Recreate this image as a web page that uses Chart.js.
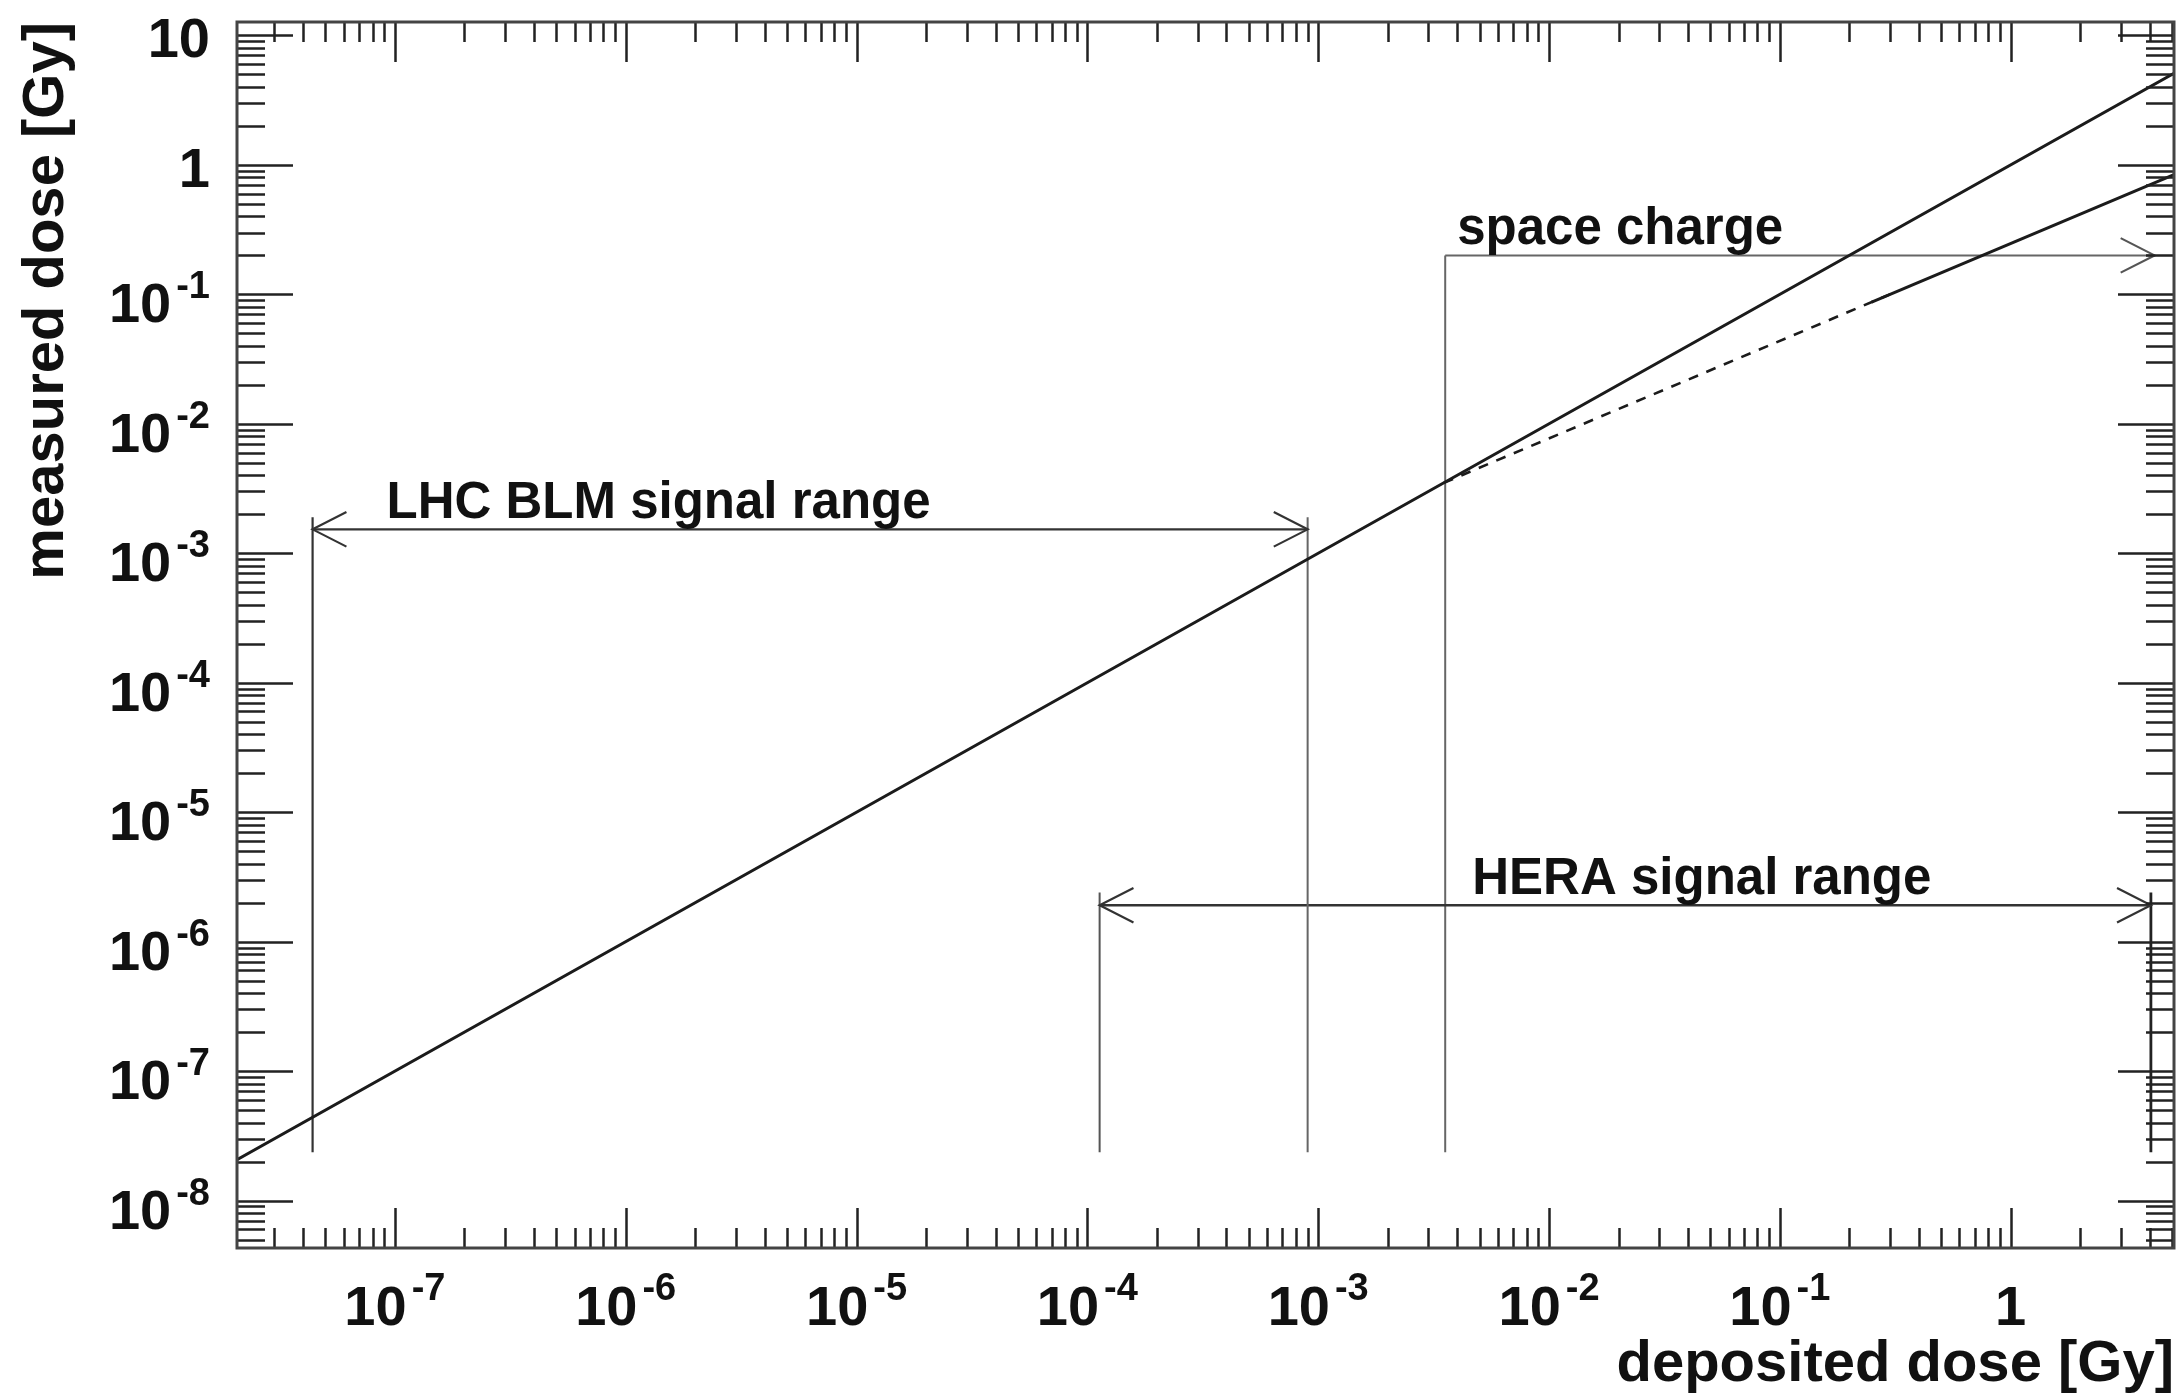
<!DOCTYPE html>
<html>
<head>
<meta charset="utf-8">
<title>measured dose vs deposited dose</title>
<script src="https://cdn.jsdelivr.net/npm/chart.js@4.4.1/dist/chart.umd.min.js"></script>
<style>
  html, body { margin: 0; padding: 0; background: #fff; }
  canvas { display: block; }
</style>
</head>
<body>
<canvas id="doseChart" width="2182" height="1398"></canvas>
<script>
const xRange = [2.07e-8, 5.1];
const yRange = [4.3e-9, 12.7];

// decade labels (powers of ten)
const xTickPowers = [-7, -6, -5, -4, -3, -2, -1, 0];
const yTickPowers = [-8, -7, -6, -5, -4, -3, -2, -1, 0, 1];

// linear response: measured = deposited
const linearX = [2.07e-8, 1e-3, 5.1];
const linearY = [2.07e-8, 1e-3, 5.1];

// response limited by space charge (dashed start, then solid)
const satDashX = [3.5e-3, 0.3];
const satDashY = [3.5e-3, 0.1];
const satSolidX = [0.25, 5.1];
const satSolidY = [0.087, 0.84];

// signal range markers
const rangeFloor = 2.36e-8;
const lhcX = [4.4e-8, 9.0e-4];
const lhcY = 1.53e-3;
const lhcTop = 1.9e-3;
const heraX = [1.13e-4, 4.05];
const heraY = 1.91e-6;
const heraTop = 2.4e-6;
const spaceX = [3.55e-3, 4.2];
const spaceY = 0.2;

const FONT = '"Liberation Sans", Arial, Helvetica, sans-serif';

const pts = (xs, ys) => xs.map((x, i) => ({ x, y: ys[i] }));
const seg = (x0, y0, x1, y1) => [{ x: x0, y: y0 }, { x: x1, y: y1 }];

function lineSet(label, data, color, width, dash) {
  return {
    label, data,
    showLine: true,
    borderColor: color,
    borderWidth: width,
    borderDash: dash || [],
    pointRadius: 0,
    pointHoverRadius: 0,
    fill: false,
    tension: 0,
  };
}

const arrows = [
  { x: lhcX, y: lhcY, heads: [true, true], color: '#333' },
  { x: heraX, y: heraY, heads: [true, true], color: '#333' },
  { x: spaceX, y: spaceY, heads: [false, true], color: '#555' },
];

const notes = [
  { text: 'LHC BLM signal range', x: 9.2e-8, y: lhcY },
  { text: 'space charge', x: 4.0e-3, y: spaceY },
  { text: 'HERA signal range', x: 4.65e-3, y: heraY },
];

function logTickValues(min, max) {
  const out = [];
  for (let e = Math.floor(Math.log10(min)); e <= Math.ceil(Math.log10(max)); e++) {
    for (let m = 1; m <= 9; m++) {
      const v = m * Math.pow(10, e);
      if (v >= min && v <= max) out.push({ v, major: m === 1 });
    }
  }
  return out;
}

function powerParts(p) {
  if (p === 0) return ['1', ''];
  if (p === 1) return ['10', ''];
  return ['10', String(p)];
}

const baseFont = 'bold 56px ' + FONT;
const expFont = 'bold 38px ' + FONT;

const rootStyle = {
  id: 'rootStyle',
  afterDatasetsDraw(chart) {
    const { ctx, chartArea: a, scales: { x, y } } = chart;
    ctx.save();

    // arrows heads
    const L = 38, th = 27 * Math.PI / 180;
    arrows.forEach(ar => {
      const py = y.getPixelForValue(ar.y);
      ctx.strokeStyle = ar.color;
      ctx.lineWidth = 2.2;
      ar.x.forEach((xv, i) => {
        if (!ar.heads[i]) return;
        const px = x.getPixelForValue(xv);
        const dir = i === 0 ? -1 : 1;
        ctx.beginPath();
        ctx.moveTo(px - dir * L * Math.cos(th), py - L * Math.sin(th));
        ctx.lineTo(px, py);
        ctx.lineTo(px - dir * L * Math.cos(th), py + L * Math.sin(th));
        ctx.stroke();
      });
    });

    // annotation text
    ctx.fillStyle = '#111';
    ctx.font = 'bold 51px ' + FONT;
    ctx.textAlign = 'left';
    ctx.textBaseline = 'alphabetic';
    notes.forEach(n => {
      ctx.fillText(n.text, x.getPixelForValue(n.x), y.getPixelForValue(n.y) - 11);
    });

    // ticks on all four sides, pointing inwards
    ctx.strokeStyle = '#222';
    ctx.lineWidth = 2.5;
    ctx.beginPath();
    logTickValues(xRange[0], xRange[1]).forEach(t => {
      const px = Math.round(x.getPixelForValue(t.v)) + 0.5;
      const len = t.major ? 40 : 20;
      ctx.moveTo(px, a.bottom); ctx.lineTo(px, a.bottom - len);
      ctx.moveTo(px, a.top); ctx.lineTo(px, a.top + len);
    });
    logTickValues(yRange[0], yRange[1]).forEach(t => {
      const py = Math.round(y.getPixelForValue(t.v)) + 0.5;
      const len = t.major ? 56 : 28;
      ctx.moveTo(a.left, py); ctx.lineTo(a.left + len, py);
      ctx.moveTo(a.right, py); ctx.lineTo(a.right - len, py);
    });
    ctx.stroke();

    // frame
    ctx.strokeStyle = '#444';
    ctx.lineWidth = 3;
    ctx.strokeRect(a.left, a.top, a.right - a.left, a.bottom - a.top);

    // decade labels, x axis
    ctx.fillStyle = '#111';
    ctx.textBaseline = 'alphabetic';
    ctx.textAlign = 'left';
    const xBase = a.bottom + 77;
    xTickPowers.forEach(p => {
      const [b, e] = powerParts(p);
      const px = x.getPixelForValue(Math.pow(10, p));
      ctx.font = baseFont;
      const wb = ctx.measureText(b).width;
      ctx.font = expFont;
      const we = e ? ctx.measureText(e).width + 5 : 0;
      const x0 = px - (wb + we) / 2;
      ctx.font = baseFont;
      ctx.fillText(b, x0, xBase);
      if (e) {
        ctx.font = expFont;
        ctx.fillText(e, x0 + wb + 5, xBase - 25);
      }
    });

    // decade labels, y axis (right aligned)
    const xr = a.left - 27;
    yTickPowers.forEach(p => {
      const [b, e] = powerParts(p);
      const py = y.getPixelForValue(Math.pow(10, p));
      ctx.font = expFont;
      const we = e ? ctx.measureText(e).width + 5 : 0;
      const base = py + (e ? 28 : 22);
      ctx.font = baseFont;
      ctx.textAlign = 'right';
      ctx.fillText(b, xr - we, base);
      if (e) {
        ctx.font = expFont;
        ctx.fillText(e, xr, base - 24);
      }
    });

    ctx.restore();
  },
};

new Chart(document.getElementById('doseChart'), {
  type: 'scatter',
  data: {
    datasets: [
      lineSet('linear response', pts(linearX, linearY), '#1b1b1b', 3),
      lineSet('space charge (dashed)', pts(satDashX, satDashY), '#1b1b1b', 2.6, [10, 9]),
      lineSet('space charge', pts(satSolidX, satSolidY), '#1b1b1b', 3),
      lineSet('LHC low', seg(lhcX[0], rangeFloor, lhcX[0], lhcTop), '#333', 2.2),
      lineSet('LHC high', seg(lhcX[1], rangeFloor, lhcX[1], lhcTop), '#666', 2),
      lineSet('LHC range', seg(lhcX[0], lhcY, lhcX[1], lhcY), '#333', 2.4),
      lineSet('HERA low', seg(heraX[0], rangeFloor, heraX[0], heraTop), '#555', 2),
      lineSet('HERA high', seg(heraX[1], rangeFloor, heraX[1], heraTop), '#222', 2.8),
      lineSet('HERA range', seg(heraX[0], heraY, heraX[1], heraY), '#333', 2.4),
      lineSet('space charge onset', seg(spaceX[0], rangeFloor, spaceX[0], spaceY), '#666', 2),
      lineSet('space charge range', seg(spaceX[0], spaceY, spaceX[1], spaceY), '#666', 2),
    ],
  },
  options: {
    responsive: false,
    animation: false,
    devicePixelRatio: 1,
    layout: { padding: { top: 22, right: 8, left: 0, bottom: 0 } },
    plugins: { legend: { display: false }, tooltip: { enabled: false } },
    scales: {
      x: {
        type: 'logarithmic',
        position: 'bottom',
        min: xRange[0],
        max: xRange[1],
        grid: { display: false, drawTicks: false },
        border: { display: false },
        ticks: { display: false },
        title: {
          display: true,
          text: 'deposited dose [Gy]',
          align: 'end',
          color: '#111',
          font: { family: FONT, size: 58, weight: 'bold', lineHeight: 1 },
          padding: { top: 88, bottom: 4 },
        },
      },
      y: {
        type: 'logarithmic',
        position: 'left',
        min: yRange[0],
        max: yRange[1],
        grid: { display: false, drawTicks: false },
        border: { display: false },
        ticks: { display: false },
        title: {
          display: true,
          text: 'measured dose [Gy]',
          align: 'end',
          color: '#111',
          font: { family: FONT, size: 58, weight: 'bold', lineHeight: 1 },
          padding: { top: 18, bottom: 161 },
        },
      },
    },
  },
  plugins: [rootStyle],
});
</script>
</body>
</html>
